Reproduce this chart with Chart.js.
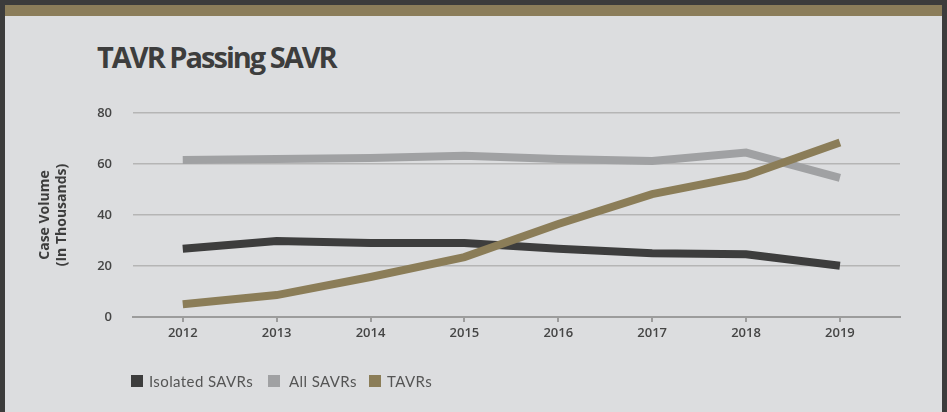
<!DOCTYPE html>
<html>
<head>
<meta charset="utf-8">
<script src="https://cdn.jsdelivr.net/npm/chart.js@4/dist/chart.umd.min.js"></script>
<style>
  html, body { margin: 0; padding: 0; }
  body { width: 947px; height: 412px; background: #3c3c3c; position: relative; overflow: hidden; }
  .panel { position: absolute; left: 5px; top: 5px; width: 937px; height: 407px; background: #dcdddf; }
  .topbar { position: absolute; left: 0; top: 0; width: 937px; height: 11px; background: #8b7d5a; }
  h1 {
    position: absolute; left: 92px; top: 32px; margin: 0;
    font-family: "Open Sans", sans-serif; font-weight: 700; font-size: 29px;
    letter-spacing: -2px; color: #3d3d3d; line-height: 40px;
  }
  #chart-wrap { position: absolute; left: 0; top: 11px; width: 937px; height: 396px; }
  .legend-item { position: absolute; top: 366px; height: 20px; font-family: Lato, sans-serif; font-size: 15px; letter-spacing: 0.4px; color: #555; line-height: 20px; }
  .legend-item span.box { position: absolute; left: 0; top: 4px; width: 12px; height: 12px; }
  .legend-item span.txt { position: absolute; white-space: nowrap; }
</style>
</head>
<body>
<div class="panel">
  <div class="topbar"></div>
  <h1>TAVR Passing SAVR</h1>
  <div id="chart-wrap"><canvas id="chart" width="937" height="396"></canvas></div>
  <div id="legend"></div>
</div>
<script>
// --- dados ---
const years = [2012, 2013, 2014, 2015, 2016, 2017, 2018, 2019];
const isolatedSavrs = [26.8, 29.8, 29.0, 29.0, 26.8, 25.0, 24.6, 20.1];
const allSavrs = [61.6, 62.0, 62.4, 63.2, 62.0, 61.2, 64.5, 54.6];
const tavrs = [5.0, 8.6, 15.7, 23.5, 36.5, 48.2, 55.4, 68.4];
const yTicks = [0, 20, 40, 60, 80];

const seriesNames = ['Isolated SAVRs', 'All SAVRs', 'TAVRs'];
const seriesColors = ['#3d3d3d', '#a0a1a3', '#8b7d58'];
const seriesData = [isolatedSavrs, allSavrs, tavrs];

const tickFont = { family: 'Open Sans', size: 13, weight: '600' };

// legenda em HTML (posições medidas na referência)
const legendX = [126, 263, 364];
const legendTextOffset = [18, 21, 18];
const legend = document.getElementById('legend');
seriesNames.forEach((name, i) => {
    const item = document.createElement('div');
    item.className = 'legend-item';
    item.style.left = legendX[i] + 'px';
    item.innerHTML = `<span class="box" style="background:${seriesColors[i]}"></span>` +
        `<span class="txt" style="left:${legendTextOffset[i]}px">${name}</span>`;
    legend.appendChild(item);
});

const datasets = seriesNames.map((name, i) => ({
    label: name,
    data: years.map((y, j) => ({ x: y, y: seriesData[i][j] })),
    borderColor: seriesColors[i],
    backgroundColor: seriesColors[i],
    borderWidth: 8,
    borderCapStyle: 'butt',
    borderJoinStyle: 'miter',
    pointRadius: 0,
    tension: 0,
    order: 2 - i // TAVRs por cima
}));

new Chart(document.getElementById('chart'), {
    type: 'line',
    data: { datasets: datasets },
    options: {
        responsive: false,
        animation: false,
        layout: { padding: { left: 28, right: 42, top: 97, bottom: 0 } },
        plugins: { legend: { display: false }, tooltip: { enabled: false } },
        scales: {
            x: {
                type: 'linear',
                min: 2011.47,
                max: 2019.64,
                afterBuildTicks: (scale) => { scale.ticks = years.map(v => ({ value: v })); },
                afterFit: (scale) => { scale.height = 95; },
                grid: { drawOnChartArea: false, drawTicks: true, tickLength: 5, color: '#9c9c9c', lineWidth: 2 },
                border: { display: true, color: '#9c9c9c', width: 2 },
                ticks: {
                    color: '#454545', font: tickFont, padding: 3, maxRotation: 0,
                    callback: (v) => String(v)
                }
            },
            y: {
                min: 0,
                max: 80,
                afterBuildTicks: (scale) => { scale.ticks = yTicks.map(v => ({ value: v })); },
                afterFit: (scale) => { scale.width = 100; },
                grid: { drawTicks: false, color: '#b5b5b5', lineWidth: 1.5 },
                border: { display: false },
                ticks: { color: '#454545', font: tickFont, padding: 21 },
                title: {
                    display: true,
                    text: ['Case Volume', '(In Thousands)'],
                    color: '#3d3d3d',
                    font: { family: 'Open Sans', size: 14, weight: '700', lineHeight: 1.2 },
                    padding: { top: 4, bottom: 0 }
                }
            }
        }
    }
});
</script>
</body>
</html>
